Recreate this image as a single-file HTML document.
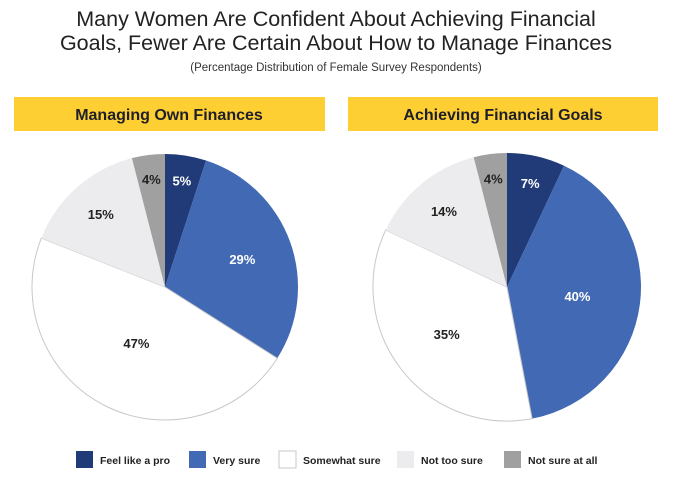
<!DOCTYPE html>
<html><head><meta charset="utf-8"><style>
body{margin:0;background:#fff;width:673px;height:478px;overflow:hidden;font-family:"Liberation Sans",sans-serif}
svg{position:absolute;left:0;top:0}
</style></head><body>
<svg id="c" width="673" height="478">
<text x="336" y="26" text-anchor="middle" font-size="21.5" fill="#222">Many Women Are Confident About Achieving Financial</text>
<text x="336" y="50" text-anchor="middle" font-size="21.5" fill="#222">Goals, Fewer Are Certain About How to Manage Finances</text>
<text x="336" y="71" text-anchor="middle" font-size="11.5" fill="#333">(Percentage Distribution of Female Survey Respondents)</text>
<rect x="14" y="97" width="311" height="34" fill="#fdcf33"/>
<text x="169" y="120" text-anchor="middle" font-size="16" font-weight="bold" fill="#1f1f2a">Managing Own Finances</text>
<rect x="348" y="97" width="310" height="34" fill="#fdcf33"/>
<text x="503" y="120" text-anchor="middle" font-size="16" font-weight="bold" fill="#1f1f2a">Achieving Financial Goals</text>
<g id="pies"></g>
<g id="legend"></g>
</svg>
<script>
const categories=["Feel like a pro","Very sure","Somewhat sure","Not too sure","Not sure at all"];
const managingValues=[5,29,47,15,4];
const goalsValues=[7,40,35,14,4];
const colors=["#213a78","#4169b4","#ffffff","#ececee","#a0a0a0"];
const NS="http://www.w3.org/2000/svg";
const pies=document.getElementById('pies');
function drawPie(vals,cx,cy,r,name){
  const total=vals.reduce((a,b)=>a+b,0);
  let acc=0;
  vals.forEach((v,i)=>{
    const a0=acc/total*2*Math.PI; acc+=v; const a1=acc/total*2*Math.PI;
    const x0=cx+r*Math.sin(a0),y0=cy-r*Math.cos(a0),x1=cx+r*Math.sin(a1),y1=cy-r*Math.cos(a1);
    const p=document.createElementNS(NS,'path');
    p.setAttribute('d',`M${cx},${cy}L${x0},${y0}A${r},${r} 0 ${a1-a0>Math.PI?1:0} 1 ${x1},${y1}Z`);
    p.setAttribute('fill',colors[i]);
    if(i===2){p.setAttribute('stroke','#c8c8c8');p.setAttribute('stroke-width','1');}
    
    
    pies.appendChild(p);
  });
  acc=0;
  vals.forEach((v,i)=>{
    const am=(acc+v/2)/total*2*Math.PI; acc+=v;
    const f=0.85-v/total*0.8;
    const t=document.createElementNS(NS,'text');
    t.setAttribute('x',cx+r*f*Math.sin(am));
    t.setAttribute('y',cy-r*f*Math.cos(am)+5);
    t.setAttribute('text-anchor','middle');
    t.setAttribute('font-size','13');
    t.setAttribute('font-weight','bold');
    t.setAttribute('fill',i<2?'#fff':'#222');
    t.textContent=v+'%';
    
    
    pies.appendChild(t);
  });
}
drawPie(managingValues,165,287,133,'managing');
drawPie(goalsValues,507,287,134,'goals');
const lg=document.getElementById('legend');
const lx=[76,189,279,397,504];
categories.forEach((c,i)=>{
  const r=document.createElementNS(NS,'rect');
  r.setAttribute('x',lx[i]);r.setAttribute('y',451);r.setAttribute('width',17);r.setAttribute('height',17);
  r.setAttribute('fill',colors[i]);
  if(i===2){r.setAttribute('stroke','#c8c8c8');}
  
  
  lg.appendChild(r);
  const t=document.createElementNS(NS,'text');
  t.setAttribute('x',lx[i]+24);t.setAttribute('y',464);
  t.setAttribute('font-size','10.5');t.setAttribute('font-weight','bold');t.setAttribute('fill','#222');
  t.textContent=c;
  
  
  lg.appendChild(t);
});
</script>
</body></html>
